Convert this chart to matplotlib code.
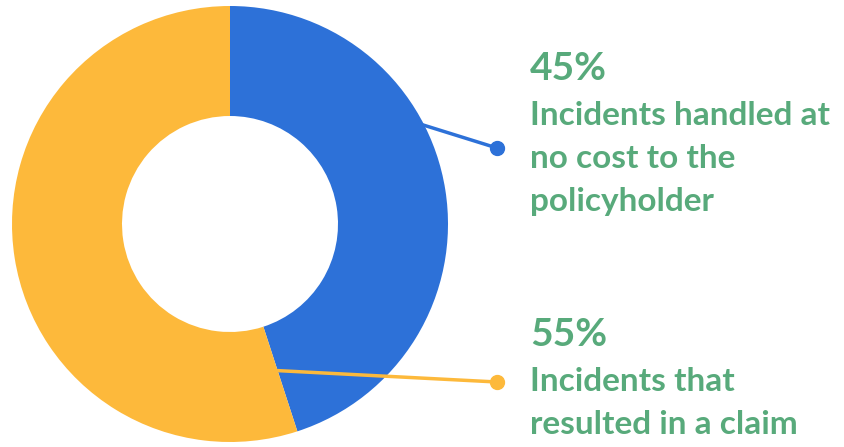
import matplotlib.pyplot as plt

# donut data
labels = ["Incidents handled at\nno cost to the\npolicyholder", "Incidents that\nresulted in a claim"]
values = [45, 55]
pct_text = ["45%", "55%"]
colors = ["#2d71d8", "#fdb93b"]
green = "#58aa7b"

fig = plt.figure(figsize=(8.45, 4.47), dpi=100)
ax = fig.add_axes([0, 0, 1, 1])

cx, cy, r = 230, 224, 218
# y axis is flipped below, so start at -90 and go counterclockwise in data space
ax.pie(values, colors=colors, startangle=-90, counterclock=True,
       radius=r, center=(cx, cy), wedgeprops=dict(width=110, linewidth=0))
ax.set_xlim(0, 845)
ax.set_ylim(447, 0)
ax.set_aspect("equal")
ax.axis("off")

# leader lines
ax.plot([420, 497], [124, 148], color=colors[0], lw=2.5, zorder=5)
ax.plot(497, 148, "o", color=colors[0], ms=10, zorder=6)
ax.plot([266, 497], [370, 382], color=colors[1], lw=2.5, zorder=5)
ax.plot(497, 382, "o", color=colors[1], ms=10, zorder=6)

font = "Lato"
ax.text(530, 80, pct_text[0], color=green, fontsize=28, fontweight="bold",
        family=font, va="baseline")
for i, line in enumerate(labels[0].split("\n")):
    ax.text(530, 125 + 43 * i, line, color=green, fontsize=24, fontweight="bold",
            family=font, va="baseline")
ax.text(530, 346, pct_text[1], color=green, fontsize=28, fontweight="bold",
        family=font, va="baseline")
for i, line in enumerate(labels[1].split("\n")):
    ax.text(530, 391 + 43 * i, line, color=green, fontsize=24, fontweight="bold",
            family=font, va="baseline")

fig.savefig("out.png", dpi=100)
